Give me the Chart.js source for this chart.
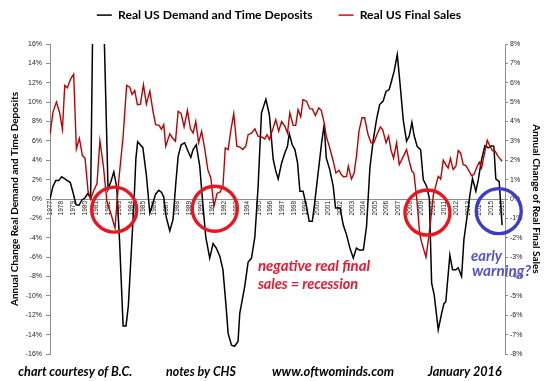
<!DOCTYPE html>
<html>
<head>
<meta charset="utf-8">
<script src="https://cdn.jsdelivr.net/npm/chart.js@4.4.1/dist/chart.umd.min.js"></script>
<style>
html,body{margin:0;padding:0;background:#fff;}
#wrap{width:550px;height:381px;position:relative;}
</style>
</head>
<body>
<div id="wrap"><canvas id="c"></canvas></div>
<script>
// ---- tick labels (years on the category axis) ----
const tickYears = [1977,1978,1979,1980,1981,1982,1983,1984,1985,1986,1987,1988,1989,1990,1991,1992,1993,1994,1995,1996,
  1997,1998,1999,2000,2001,2002,2003,2004,2005,2006,2007,2008,2009,2010,2011,2012,2013,2014,2015,2016];
const leftTickValues = [-16,-14,-12,-10,-8,-6,-4,-2,0,2,4,6,8,10,12,14,16];
const rightTickValues = [-8,-7,-6,-5,-4,-3,-2,-1,0,1,2,3,4,5,6,7,8];

// ---- Real US Demand and Time Deposits (left axis, % y/y) ----
const depositYears = [1977.0,1977.25,1977.5,1977.75,1978.0,1978.25,1978.5,1978.75,1979.0,1979.25,1979.5,1979.75,1980.0,1980.25,1980.5,
  1980.75,1981.5,1982.0,1982.25,1982.5,1982.75,1983.0,1983.3,1983.55,1983.75,1984.0,1984.25,1984.4,1984.55,1985.0,1985.3,1985.6,1985.85,
  1986.1,1986.37,1986.6,1986.8,1987.0,1987.32,1987.6,1987.84,1988.04,1988.3,1988.6,1988.9,1989.13,1989.33,1989.6,1989.9,1990.13,1990.42,
  1990.76,1991.05,1991.34,1991.63,1991.9,1992.15,1992.35,1992.64,1992.9,1993.2,1993.35,1993.78,1994.07,1994.36,1994.65,1994.93,1995.22,
  1995.6,1995.9,1996.23,1996.45,1996.66,1996.95,1997.23,1997.46,1997.61,1997.87,1998.1,1998.33,1998.53,1998.8,1999.1,1999.33,1999.6,
  1999.8,2000.1,2000.4,2000.62,2000.8,2001.1,2001.4,2001.6,2002.0,2002.26,2002.55,2002.84,2003.13,2003.4,2003.7,2004.0,2004.27,2004.56,
  2004.85,2005.13,2005.4,2005.7,2005.95,2006.22,2006.43,2006.65,2006.92,2007.15,2007.43,2007.72,2007.95,2008.18,2008.38,2008.64,2008.93,
  2009.16,2009.45,2009.68,2009.88,2010.1,2010.45,2010.74,2010.94,2011.1,2011.45,2011.68,2011.97,2012.17,2012.46,2012.66,2012.9,2013.18,
  2013.4,2013.69,2013.9,2014.18,2014.47,2014.76,2015.04,2015.24,2015.41,2015.7,2015.95];
const depositValues = [0,1.3,1.9,1.9,2.3,2.1,1.9,1.7,0.6,-0.6,-0.65,-0.1,0.1,0.55,0.1,
  25,25,1.0,1.8,2.8,1.2,-4.5,-13.1,-13.1,-11,-5.5,0,4.2,5.9,5.3,2.5,-1.45,-0.5,
  0.5,0.9,0.7,0.2,-1.8,-3.3,-2.1,1.65,4.4,5.6,5.8,4.9,4.3,5.1,5.6,3.4,0,-3.9,
  -6.1,-4.6,-5.1,-5.9,-7.3,-10.8,-13.9,-15.1,-15.2,-14.7,-11.8,-9.0,-6.5,-6.1,-3.9,1.3,8.9,
  10.3,8.7,4.1,2.9,2.07,3.7,4.75,5.44,6.75,5.6,5.1,3.7,0.8,0.8,-0.76,-2.3,-2.3,
  -0.42,2.7,5.8,7.7,4.24,3.03,1.3,-0.93,-0.93,-2.66,-3.7,-5.07,-6.1,-5.07,-5.3,-5.25,-2.84,3.2,
  6.1,8.2,9.75,10.1,11.1,11.3,12.2,13.2,14.9,12.0,8.2,5.95,6.5,7.9,6.5,5.4,5.1,
  2.0,1.3,0.1,-8.7,-9.9,-13.5,-11.8,-10.8,-10.6,-5.8,-7.3,-7.3,-7.1,-8.0,-4.2,-2.1,0.45,
  2.1,0.8,2.0,4.07,5.5,5.27,5.5,5.44,2.07,1.8,-2.7];

// ---- Real US Final Sales (right axis, % y/y) ----
const salesYears = [1977.0,1977.26,1977.55,1977.83,1978.07,1978.27,1978.5,1978.78,1979.04,1979.27,1979.53,1979.79,1980.02,1980.28,1980.5,
  1980.77,1981.05,1981.3,1981.6,1981.9,1982.23,1982.6,1982.93,1983.3,1983.6,1983.87,1984.07,1984.3,1984.53,1984.79,1985.05,1985.3,1985.6,
  1985.88,1986.1,1986.4,1986.6,1986.8,1986.97,1987.32,1987.55,1987.81,1988.04,1988.3,1988.55,1988.84,1989.1,1989.33,1989.56,1989.8,
  1990.06,1990.34,1990.6,1990.86,1991.12,1991.4,1991.63,1991.9,1992.1,1992.35,1992.57,1992.83,1993.1,1993.35,1993.6,1993.86,1994.07,
  1994.36,1994.65,1994.93,1995.22,1995.5,1995.7,1995.9,1996.23,1996.45,1996.7,1996.95,1997.23,1997.46,1997.66,1997.95,1998.17,1998.37,
  1998.6,1998.8,1999.1,1999.38,1999.6,1999.86,2000.15,2000.37,2000.62,2000.8,2001.1,2001.4,2001.63,2001.9,2002.1,2002.3,2002.55,2002.7,
  2002.97,2003.2,2003.4,2003.62,2003.88,2004.1,2004.4,2004.66,2004.9,2005.17,2005.46,2005.66,2005.95,2006.17,2006.37,2006.6,2006.86,
  2007.09,2007.38,2007.72,2007.95,2008.18,2008.35,2008.6,2008.85,2009.0,2009.39,2009.6,2009.8,2010.03,2010.26,2010.45,2010.66,2010.88,
  2011.1,2011.3,2011.5,2011.73,2011.97,2012.17,2012.37,2012.6,2012.83,2013.12,2013.32,2013.52,2013.81,2013.98,2014.18,2014.38,2014.67,
  2014.9,2015.12,2015.36,2015.6,2015.95];
const salesValues = [3.33,4.5,5.0,4.45,3.6,5.86,5.74,6.2,6.44,2.58,3.13,2.24,2.1,0.4,0.0,
  0.44,0.8,3.0,1.7,-0.12,-0.72,-1.5,1.0,3.24,5.86,5.77,5.4,5.6,4.87,4.9,5.9,4.9,5.57,
  4.5,3.84,3.8,3.6,3.84,2.72,3.36,3.15,2.98,4.53,4.41,3.72,4.58,3.62,3.41,4.0,2.9,
  3.5,2.55,1.5,1.08,-0.38,0.3,0.34,0.65,2.64,2.55,3.5,4.41,2.72,2.68,2.55,2.72,3.32,
  3.4,3.62,3.24,3.2,3.1,3.32,3.07,3.67,4.1,3.5,4.0,3.76,3.4,4.45,3.8,3.8,4.62,
  4.24,5.13,5.05,4.65,4.65,4.31,4.7,4.58,3.93,3.24,2.64,1.95,1.34,1.48,1.26,1.14,1.17,1.69,
  1.03,1.34,2.2,3.5,4.19,4.19,3.33,2.9,2.9,3.33,3.72,3.58,2.9,3.24,2.55,2.1,2.9,
  1.77,2.12,2.55,1.95,1.43,1.34,0.0,-1.8,-2.2,-3.0,-2.1,-1.07,0.22,0.74,1.17,1.03,2.0,
  1.77,1.6,2.09,1.52,1.69,2.5,2.38,1.77,1.72,1.43,1.2,1.26,1.69,1.9,1.6,2.2,3.03,
  2.72,2.5,2.46,2.2,1.95];

// ---- annotation circles (centre year, centre value on left axis) ----
const circleYears = [1982.53, 1991.2, 2009.52, 2015.66];
const circleValues = [-1.1, -1.0, -1.4, -1.25];
const circleColors = ['#e8161f', '#e8161f', '#e8161f', '#3c3cc8'];

const GREY = '#8c8c8c';
const tickFont = {family: 'Liberation Sans', size: 7};

function fitText(ctx, text, x, y, width, font, color) {
  ctx.save();
  ctx.font = font;
  ctx.fillStyle = color;
  ctx.textBaseline = 'middle';
  ctx.textAlign = 'left';
  const w = ctx.measureText(text).width;
  const sx = w > 0 ? width / w : 1;
  ctx.translate(x, y);
  ctx.scale(sx, 1);
  ctx.fillText(text, 0, 0);
  ctx.restore();
}

const legendSpacer = {
  id: 'legendSpacer',
  beforeInit(chart) {
    const lg = chart.legend;
    if (lg && !lg._patched) {
      const orig = lg.fit;
      lg.fit = function () { orig.call(this); this.height = 61; };
      lg._patched = true;
    }
  }
};

const annotations = {
  id: 'annotations',
  afterDatasetsDraw(chart) {
    const ctx = chart.ctx;
    const xs = chart.scales.x, ys = chart.scales.y;
    ctx.save();
    ctx.lineWidth = 3.4;
    for (let i = 0; i < circleYears.length; i++) {
      ctx.strokeStyle = circleColors[i];
      ctx.beginPath();
      ctx.arc(xs.getPixelForValue(circleYears[i]), ys.getPixelForValue(circleValues[i]), 22.5, 0, Math.PI * 2);
      ctx.stroke();
    }
    ctx.restore();
    const redFont = 'italic bold 15px Lato';
    fitText(ctx, 'negative real final', 258, 266.5, 112, redFont, '#f0162e');
    fitText(ctx, 'sales = recession', 258, 284.5, 100, redFont, '#f0162e');
    fitText(ctx, 'early', 471, 256, 31, redFont, '#5252d6');
    fitText(ctx, 'warning?', 472, 271.5, 59, redFont, '#5252d6');
    const footFont = 'italic bold 13px Lato';
    fitText(ctx, 'chart courtesy of B.C.', 18.3, 372, 114, footFont, '#000');
    fitText(ctx, 'notes by CHS', 166, 372, 70, footFont, '#000');
    fitText(ctx, 'www.oftwominds.com', 272, 372, 122, footFont, '#000');
    fitText(ctx, 'January 2016', 427.7, 372, 74, footFont, '#000');
  }
};

new Chart(document.getElementById('c'), {
  type: 'line',
  data: {
    datasets: [
      {
        label: 'Real US Demand and Time Deposits',
        data: depositYears.map((x, i) => ({x: x, y: depositValues[i]})),
        borderColor: '#000000', backgroundColor: '#000000',
        borderWidth: 1.5, pointRadius: 0, tension: 0, yAxisID: 'y', order: 1
      },
      {
        label: 'Real US Final Sales',
        data: salesYears.map((x, i) => ({x: x, y: salesValues[i]})),
        borderColor: '#c00000', backgroundColor: '#c00000',
        borderWidth: 1.4, pointRadius: 0, tension: 0, yAxisID: 'y2', order: 0
      }
    ]
  },
  options: {
    responsive: true,
    maintainAspectRatio: false,
    animation: false,
    layout: {padding: {top: -17, bottom: 27, left: 8, right: 0}},
    plugins: {
      tooltip: {enabled: false},
      legend: {
        display: true,
        position: 'top',
        align: 'center',
        labels: {
          usePointStyle: true,
          pointStyle: 'line',
          pointStyleWidth: 15,
          boxHeight: 12,
          padding: 26,
          color: '#000',
          font: {family: 'Lato', weight: 'bold', size: 12.2},
          sort: (a, b) => a.datasetIndex - b.datasetIndex
        }
      }
    },
    scales: {
      x: {
        type: 'linear',
        min: 1977,
        max: 2016.2,
        position: {y: 0},
        afterBuildTicks: (s) => { s.ticks = tickYears.map(v => ({value: v})); },
        ticks: {
          autoSkip: false, minRotation: 90, maxRotation: 90,
          font: {family: 'Liberation Sans', size: 6.5}, color: '#222', padding: 2,
          callback: (v) => String(v)
        },
        grid: {drawOnChartArea: false, drawTicks: false},
        border: {color: GREY, width: 1}
      },
      y: {
        position: 'left',
        min: -16, max: 16,
        afterBuildTicks: (s) => { s.ticks = leftTickValues.map(v => ({value: v})); },
        ticks: {font: tickFont, color: '#222', padding: 4, callback: (v) => v + '%'},
        grid: {drawOnChartArea: false, drawTicks: true, tickLength: 4, color: GREY},
        border: {color: GREY, width: 1},
        title: {
          display: true, text: 'Annual Change Real Demand and Time Deposits', color: '#000',
          font: {family: 'Lato', weight: 'bold', size: 10}, padding: {top: 0.5, bottom: 0}
        },
        afterFit: (s) => { s.width = 42; }
      },
      y2: {
        position: 'right',
        min: -8, max: 8,
        afterBuildTicks: (s) => { s.ticks = rightTickValues.map(v => ({value: v})); },
        ticks: {font: tickFont, color: '#222', padding: 2, callback: (v) => v + '%'},
        grid: {drawOnChartArea: false, drawTicks: true, tickLength: 3, color: GREY},
        border: {color: GREY, width: 1},
        title: {
          display: true, text: 'Annual Change of Real Final Sales', color: '#000',
          font: {family: 'Lato', weight: 'bold', size: 10}, padding: {top: 7.3, bottom: 0}
        },
        afterFit: (s) => { s.width = 45; }
      }
    }
  },
  plugins: [legendSpacer, annotations]
});
</script>
</body>
</html>
